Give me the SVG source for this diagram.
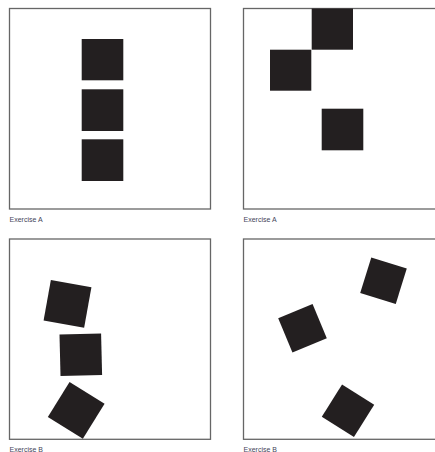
<svg xmlns="http://www.w3.org/2000/svg" width="435" height="452" viewBox="0 0 435 452">
<style>
.frame{fill:#fff;stroke:#666;stroke-width:1.3}
.sq{fill:#231f20}
.lbl{font-family:"Liberation Sans",Arial,sans-serif;font-size:7px;fill:#44445a}
</style>
<rect width="435" height="452" fill="#fff"/>
<g id="panel1">
<rect class="frame" x="9.5" y="8.5" width="201" height="200.5"/>
<rect class="sq" x="81.7" y="39" width="41.6" height="41.3"/>
<rect class="sq" x="81.7" y="89.3" width="41.6" height="41.7"/>
<rect class="sq" x="81.7" y="139.3" width="41.6" height="41.7"/>
<text class="lbl" x="9.5" y="221.5">Exercise A</text>
</g>
<g id="panel2">
<rect class="frame" x="243.5" y="8.5" width="200" height="200.5"/>
<rect class="sq" x="311.7" y="8.5" width="41.3" height="41.2"/>
<rect class="sq" x="270" y="49.7" width="41.3" height="41"/>
<rect class="sq" x="321.7" y="108.7" width="41.6" height="41.6"/>
<text class="lbl" x="243.5" y="221.5">Exercise A</text>
</g>
<g id="panel3">
<rect class="frame" x="9.5" y="239" width="201" height="200.3"/>
<rect class="sq" x="-20.6" y="-20.6" width="41.2" height="41.2" transform="translate(67.5 303.8) rotate(10.2)"/>
<rect class="sq" x="-20.8" y="-20.8" width="41.6" height="41.6" transform="translate(80.8 354.7) rotate(-1.4)"/>
<rect class="sq" x="-20.6" y="-20.6" width="41.2" height="41.2" transform="translate(76.2 410.3) rotate(31.8)"/>
<text class="lbl" x="9.5" y="451.5">Exercise B</text>
</g>
<g id="panel4">
<rect class="frame" x="243.5" y="239" width="200" height="200.3"/>
<rect class="sq" x="-18.6" y="-18.6" width="37.2" height="37.2" transform="translate(383.5 280.8) rotate(17.3)"/>
<rect class="sq" x="-18.6" y="-18.6" width="37.2" height="37.2" transform="translate(302.5 328.3) rotate(-22.5)"/>
<rect class="sq" x="-19" y="-19" width="38" height="38" transform="translate(348 410.7) rotate(32.2)"/>
<text class="lbl" x="243.5" y="451.5">Exercise B</text>
</g>
</svg>
